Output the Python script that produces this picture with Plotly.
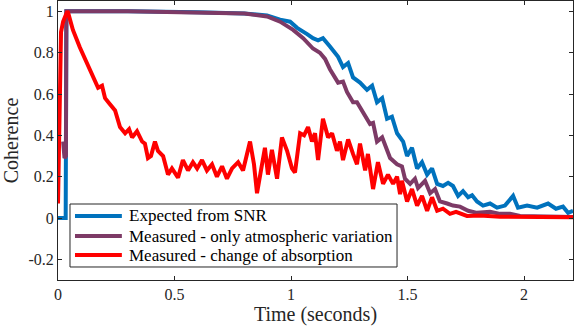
import plotly.graph_objects as go

# Expected from SNR
t_snr = [0.0, 0.033, 0.036, 0.3, 0.6, 0.8, 0.897, 0.953, 0.996, 1.026, 1.069, 1.094, 1.116, 1.137,
         1.167, 1.202, 1.223, 1.245, 1.266, 1.296, 1.326, 1.348, 1.369, 1.391, 1.412, 1.433, 1.455,
         1.481, 1.498, 1.519, 1.541, 1.562, 1.584, 1.605, 1.627, 1.652, 1.674, 1.695, 1.717, 1.738,
         1.76, 1.777, 1.798, 1.824, 1.854, 1.884, 1.918, 1.953, 1.974, 2.013, 2.056, 2.103, 2.137,
         2.167, 2.189, 2.21]
c_snr = [0.0, 0.0, 1.0, 1.0, 0.995, 0.99, 0.98, 0.96, 0.95, 0.92, 0.89, 0.87, 0.86, 0.87,
         0.83, 0.78, 0.73, 0.75, 0.68, 0.655, 0.62, 0.64, 0.56, 0.58, 0.48, 0.49, 0.41,
         0.37, 0.30, 0.34, 0.24, 0.27, 0.21, 0.24, 0.165, 0.155, 0.17, 0.155, 0.107, 0.13,
         0.10, 0.11, 0.08, 0.06, 0.07, 0.05, 0.06, 0.107, 0.05, 0.06, 0.05, 0.07, 0.045,
         0.055, 0.025, 0.035]

# Measured - only atmospheric variation
t_atm = [0.022, 0.028, 0.034, 0.036, 0.3, 0.6, 0.8, 0.897, 0.953, 1.009, 1.052, 1.094, 1.124,
         1.146, 1.167, 1.202, 1.223, 1.24, 1.266, 1.283, 1.305, 1.339, 1.352, 1.369, 1.391,
         1.425, 1.455, 1.476, 1.489, 1.511, 1.532, 1.545, 1.575, 1.597, 1.618, 1.639, 1.67,
         1.695, 1.725, 1.76, 1.798, 1.854, 1.897, 1.94, 1.983, 2.069, 2.21]
c_atm = [0.37, 0.29, 0.30, 1.0, 1.0, 0.995, 0.99, 0.975, 0.95, 0.91, 0.87, 0.82, 0.80,
         0.77, 0.72, 0.655, 0.66, 0.61, 0.56, 0.56, 0.52, 0.455, 0.46, 0.37, 0.39,
         0.29, 0.26, 0.25, 0.19, 0.165, 0.19, 0.145, 0.18, 0.12, 0.14, 0.08, 0.07,
         0.06, 0.055, 0.035, 0.025, 0.03, 0.02, 0.02, 0.01, 0.008, 0.005]

# Measured - change of absorption
t_abs = [0.0, 0.013, 0.022, 0.03, 0.04, 0.043, 0.064, 0.094, 0.124, 0.15, 0.172, 0.189, 0.202,
         0.223, 0.245, 0.266, 0.288, 0.305, 0.318, 0.339, 0.361, 0.373, 0.386, 0.399, 0.416,
         0.429, 0.451, 0.472, 0.489, 0.515, 0.536, 0.558, 0.579, 0.597, 0.618, 0.639, 0.661,
         0.682, 0.704, 0.725, 0.747, 0.773, 0.794, 0.824, 0.841, 0.854, 0.876, 0.888, 0.901,
         0.918, 0.94, 0.961, 0.983, 1.004, 1.017, 1.039, 1.056, 1.073, 1.09, 1.103, 1.116,
         1.137, 1.159, 1.176, 1.197, 1.21, 1.223, 1.245, 1.266, 1.283, 1.296, 1.318, 1.33,
         1.352, 1.373, 1.395, 1.416, 1.438, 1.455, 1.468, 1.476, 1.498, 1.519, 1.541, 1.562,
         1.584, 1.605, 1.627, 1.652, 1.682, 1.708, 1.755, 1.811, 1.897, 2.21]
c_abs = [0.07, 0.9, 0.95, 0.97, 1.0, 0.995, 0.91, 0.825, 0.75, 0.68, 0.63, 0.64, 0.58,
         0.55, 0.52, 0.44, 0.41, 0.43, 0.39, 0.42, 0.37, 0.36, 0.29, 0.30, 0.37,
         0.325, 0.30, 0.21, 0.24, 0.195, 0.28, 0.23, 0.27, 0.24, 0.28, 0.23, 0.26,
         0.20, 0.25, 0.19, 0.24, 0.27, 0.23, 0.37, 0.26, 0.12, 0.28, 0.34, 0.21,
         0.33, 0.19, 0.39, 0.325, 0.24, 0.22, 0.41, 0.40, 0.44, 0.37, 0.41, 0.28,
         0.48, 0.39, 0.41, 0.325, 0.37, 0.28, 0.38, 0.31, 0.26, 0.36, 0.23, 0.31,
         0.14, 0.27, 0.165, 0.21, 0.165, 0.20, 0.115, 0.18, 0.08, 0.14, 0.06, 0.107,
         0.035, 0.10, 0.035, 0.045, 0.02, 0.03, 0.01, 0.012, 0.006, 0.004]

series_names = ['Expected from SNR', 'Measured - only atmospheric variation', 'Measured - change of absorption']
series_colors = ['#0072BD', '#7D3A66', '#FF0000']

x_ticks = [0, 0.5, 1, 1.5, 2]
x_tick_labels = ['0', '0.5', '1', '1.5', '2']
y_ticks = [-0.2, 0, 0.2, 0.4, 0.6, 0.8, 1]
y_tick_labels = ['-0.2', '0', '0.2', '0.4', '0.6', '0.8', '1']

fnt = '"Liberation Serif", "Times New Roman", serif'
axis_col = '#262626'

fig = go.Figure()
for xs, ys, nm, col in zip([t_snr, t_atm, t_abs], [c_snr, c_atm, c_abs], series_names, series_colors):
    fig.add_trace(go.Scatter(x=xs, y=ys, mode='lines', name=nm, showlegend=False,
                             line=dict(color=col, width=4)))

axis_style = dict(showline=True, linecolor=axis_col, linewidth=1, mirror='ticks', ticks='inside',
                  ticklen=4, tickcolor=axis_col, showgrid=False, zeroline=False, automargin=False,
                  tickfont=dict(family=fnt, size=16, color=axis_col))
fig.update_xaxes(range=[0, 2.21], tickvals=x_ticks, ticktext=x_tick_labels,
                 title=dict(text='Time (seconds)', font=dict(family=fnt, size=20, color=axis_col), standoff=4),
                 **axis_style)
fig.update_yaxes(range=[-0.3, 1.05], tickvals=y_ticks, ticktext=y_tick_labels,
                 title=dict(text='Coherence', font=dict(family=fnt, size=20, color=axis_col), standoff=6),
                 **axis_style)

# legend drawn by hand so the rows sit as tightly as in the original (MATLAB-style box)
fig.add_shape(type='rect', xref='paper', yref='paper', x0=0.0233, x1=0.6583, y0=0.0466, y1=0.2724,
              line=dict(color=axis_col, width=1), fillcolor='white', layer='above')
row_y = [0.2294, 0.1577, 0.0896]
for ry, nm, col in zip(row_y, series_names, series_colors):
    fig.add_shape(type='line', xref='paper', yref='paper', x0=0.033, x1=0.124, y0=ry, y1=ry,
                  line=dict(color=col, width=4), layer='above')
    fig.add_annotation(xref='paper', yref='paper', x=0.134, y=ry, xanchor='left', yanchor='middle',
                       text=nm, showarrow=False, font=dict(family=fnt, size=17, color='black'))

fig.update_layout(width=574, height=328, margin=dict(l=58, r=1, t=1, b=48),
                  paper_bgcolor='white', plot_bgcolor='white',
                  font=dict(family=fnt, color=axis_col), showlegend=False)
# drop the default page margin so the figure sits at the window's corner
fig.write_html("out.html", config={'displayModeBar': False},
               post_script="document.body.style.margin='0';")
